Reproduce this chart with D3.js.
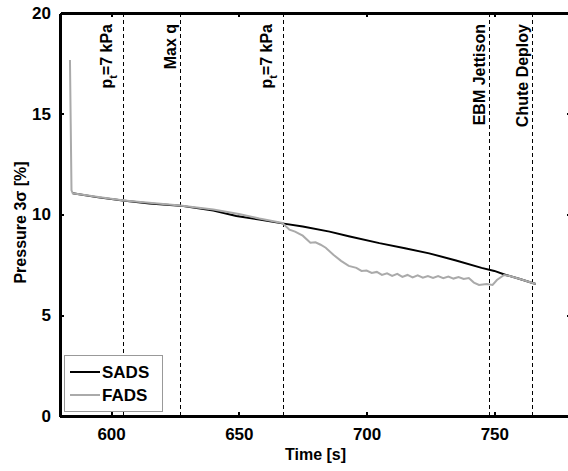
<!DOCTYPE html>
<html>
<head>
<meta charset="utf-8">
<script src="https://cdn.jsdelivr.net/npm/d3@7"></script>
<style>
  body { margin: 0; background: #fff; }
  svg { display: block; font-family: "Liberation Sans", Arial, Helvetica, sans-serif; font-weight: bold; }
</style>
</head>
<body>
<svg width="568" height="471"></svg>
<script>
const xTicks = [600, 650, 700, 750];
const yTicks = [0, 5, 10, 15, 20];

const sadsTime = [585, 595, 604.6, 615, 627, 640, 649, 658, 667, 675, 685.5, 693, 705, 715, 724.5, 735, 745, 750, 754.5, 760, 766.2];
const sadsValue = [11.05, 10.85, 10.69, 10.55, 10.44, 10.2, 9.93, 9.75, 9.56, 9.4, 9.15, 8.92, 8.58, 8.33, 8.07, 7.72, 7.35, 7.2, 7.0, 6.8, 6.55];

const fadsTime = [583.9, 584.5, 585, 595, 605, 627, 640, 650, 658, 667, 669.8, 672, 675, 678, 680, 682, 684, 687, 690, 693, 696, 698, 700, 702, 704, 706, 708, 710, 712, 714, 716, 718, 720, 722, 724, 726, 728, 730, 732, 734, 736, 738, 740, 742, 744, 747, 749.3, 751, 753.8, 756, 760, 766.2];
const fadsValue = [17.67, 11.2, 11.05, 10.87, 10.7, 10.45, 10.25, 10.02, 9.8, 9.58, 9.25, 9.15, 8.95, 8.6, 8.62, 8.5, 8.35, 8.0, 7.7, 7.45, 7.35, 7.2, 7.22, 7.1, 7.15, 7.0, 7.08, 6.95, 7.05, 6.9, 7.0, 6.88, 6.98, 6.86, 6.95, 6.85, 6.94, 6.84, 6.92, 6.82, 6.9, 6.8, 6.85, 6.62, 6.5, 6.55, 6.5, 6.75, 7.0, 6.95, 6.8, 6.55];

const eventTime = [604.6, 627, 667.2, 748, 764.9];
const eventLabel = ["p_t=7 kPa", "Max q", "p_t=7 kPa", "EBM Jettison", "Chute Deploy"];

const svg = d3.select("svg");
const L = 60, R = 571, T = 13, B = 416;

const x = d3.scaleLinear().domain([580, 780]).range([L, R]);
const y = d3.scaleLinear().domain([0, 20]).range([B, T]);

// event lines
eventTime.forEach((t, i) => {
    svg.append("line")
        .attr("x1", Math.round(x(t)) + 0.5).attr("x2", Math.round(x(t)) + 0.5)
        .attr("y1", T).attr("y2", B)
        .attr("stroke", "black")
        .attr("stroke-width", 1)
        .attr("stroke-dasharray", "4,3");

    const lab = eventLabel[i];
    const hasSub = lab.startsWith("p_t");
    const tx = x(t) - (hasSub ? 11 : 4);
    const text = svg.append("text")
        .attr("transform", `translate(${tx},24) rotate(-90)`)
        .attr("text-anchor", "end")
        .attr("font-size", 16);
    if (hasSub) {
        text.append("tspan").text("p");
        text.append("tspan").attr("dy", 5).attr("font-size", 11).text("t");
        text.append("tspan").attr("dy", -5).text(lab.slice(3));
    } else {
        text.text(lab);
    }
});

const line = d3.line()
    .x(d => x(d[0]))
    .y(d => y(d[1]));

svg.append("path")
    .attr("d", line(d3.zip(sadsTime, sadsValue)))
    .attr("stroke", "black")
    .attr("stroke-width", 2)
    .attr("fill", "none");

svg.append("path")
    .attr("d", line(d3.zip(fadsTime, fadsValue)))
    .attr("stroke", "#aaaaaa")
    .attr("stroke-width", 2)
    .attr("fill", "none");

// axes
const styleAxis = g => {
    g.select(".domain").attr("stroke-width", 3).attr("stroke", "black").attr("shape-rendering", "crispEdges");
    g.selectAll(".tick line").attr("stroke-width", 2).attr("shape-rendering", "crispEdges");
    g.selectAll("text").attr("font-size", 17).attr("font-family", null).attr("font-weight", "bold");
};

svg.append("g")
    .attr("transform", `translate(0,${B})`)
    .call(d3.axisBottom(x).tickValues(xTicks).tickSizeInner(-4).tickSizeOuter(0).tickPadding(12))
    .call(styleAxis);

svg.append("g")
    .attr("transform", `translate(0,${T})`)
    .call(d3.axisTop(x).tickValues(xTicks).tickSizeInner(-4).tickSizeOuter(0).tickFormat(""))
    .call(styleAxis);

svg.append("g")
    .attr("transform", `translate(${L},0)`)
    .call(d3.axisLeft(y).tickValues(yTicks).tickSizeInner(-4).tickSizeOuter(0).tickPadding(9))
    .call(styleAxis);

svg.append("g")
    .attr("transform", `translate(${R},0)`)
    .call(d3.axisRight(y).tickValues(yTicks).tickSizeInner(-4).tickSizeOuter(0).tickFormat(""))
    .call(styleAxis);

// axis labels
svg.append("text")
    .attr("x", (L + R) / 2)
    .attr("y", 460)
    .attr("text-anchor", "middle")
    .attr("font-size", 16)
    .text("Time [s]");

svg.append("text")
    .attr("transform", `translate(26,${(T + B) / 2 + 8}) rotate(-90)`)
    .attr("text-anchor", "middle")
    .attr("font-size", 16)
    .text("Pressure 3σ [%]");

// legend
const legend = svg.append("g");
legend.append("rect")
    .attr("x", 64.5).attr("y", 355.5)
    .attr("width", 98).attr("height", 56)
    .attr("fill", "white")
    .attr("stroke", "#999")
    .attr("stroke-width", 1);

[["SADS", "black", 372], ["FADS", "#aaaaaa", 395]].forEach(([name, color, ly]) => {
    legend.append("line")
        .attr("x1", 70).attr("x2", 100)
        .attr("y1", ly).attr("y2", ly)
        .attr("stroke", color)
        .attr("stroke-width", 2);
    legend.append("text")
        .attr("x", 102)
        .attr("y", ly + 6)
        .attr("font-size", 17)
        .text(name);
});
</script>
</body>
</html>
